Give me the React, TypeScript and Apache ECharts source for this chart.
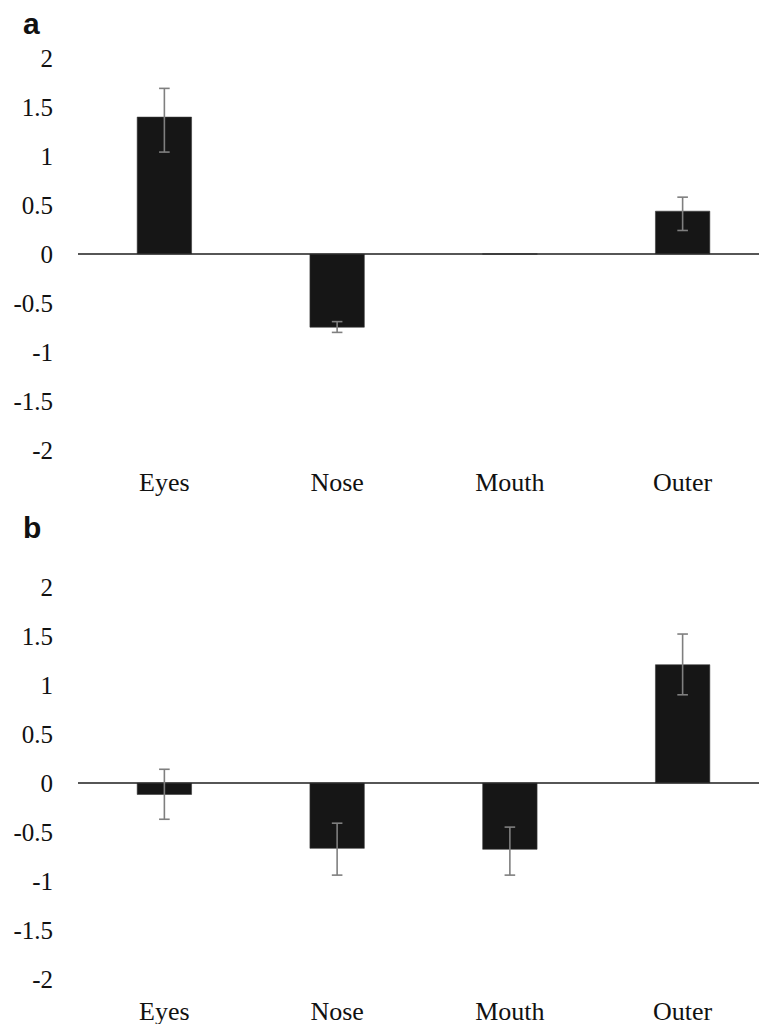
import React, { useEffect, useRef } from "react";
import * as echarts from "echarts";

const categories = ["Eyes", "Nose", "Mouth", "Outer"];
const yTicks = { min: -2, max: 2, step: 0.5 };

// Panel a
const valuesA = [1.4, -0.75, 0, 0.44];
const errLowA = [1.04, -0.8, null, 0.24];
const errHighA = [1.69, -0.69, null, 0.58];

// Panel b
const valuesB = [-0.12, -0.67, -0.68, 1.21];
const errLowB = [-0.37, -0.94, -0.94, 0.9];
const errHighB = [0.14, -0.41, -0.45, 1.52];

const panelLabels = ["a", "b"];

function errData(lo: (number | null)[], hi: (number | null)[]) {
  const out: number[][] = [];
  lo.forEach((l, i) => {
    const h = hi[i];
    if (l !== null && h !== null) out.push([i, l, h]);
  });
  return out;
}

export default function App() {
  const ref = useRef<HTMLDivElement>(null);
  useEffect(() => {
    if (!ref.current) return;
    const chart = echarts.init(ref.current, undefined, { renderer: "svg" });
    const serif = "'Liberation Serif', 'Times New Roman', serif";
    const grids = [
      { left: 78, right: 0, top: 58, height: 392 },
      { left: 78, right: 0, top: 587, height: 392 },
    ];
    const xAxes = grids.map((_, gi) => ({
      type: "category",
      gridIndex: gi,
      data: categories,
      axisLine: { show: false },
      axisTick: { show: false },
      axisLabel: { fontFamily: serif, fontSize: 26, color: "#111", margin: 19 },
    }));
    const yAxes = grids.map((_, gi) => ({
      type: "value",
      gridIndex: gi,
      min: yTicks.min,
      max: yTicks.max,
      interval: yTicks.step,
      axisLine: { show: false },
      axisTick: { show: false },
      splitLine: { show: false },
      axisLabel: { fontFamily: serif, fontSize: 25, color: "#111", margin: 25 },
    }));
    const renderErr = (params: any, api: any) => {
      const x = api.value(0);
      const lo = api.coord([x, api.value(1)]);
      const hi = api.coord([x, api.value(2)]);
      const cap = 5.3;
      const style = { stroke: "#7f7f7f", lineWidth: 1.6 };
      return {
        type: "group",
        children: [
          { type: "line", shape: { x1: lo[0], y1: lo[1], x2: hi[0], y2: hi[1] }, style },
          { type: "line", shape: { x1: lo[0] - cap, y1: lo[1], x2: lo[0] + cap, y2: lo[1] }, style },
          { type: "line", shape: { x1: hi[0] - cap, y1: hi[1], x2: hi[0] + cap, y2: hi[1] }, style },
        ],
      };
    };
    const barSeries = (vals: number[], gi: number) => ({
      type: "bar",
      xAxisIndex: gi,
      yAxisIndex: gi,
      data: vals,
      barWidth: 55,
      itemStyle: { color: "#161616", borderColor: "#3a3a3a", borderWidth: 0.6 },
      markLine: {
        silent: true,
        symbol: ["none", "none"],
        label: { show: false },
        lineStyle: { color: "#1e1e1e", width: 1.5, type: "solid" },
        data: [{ yAxis: 0 }],
      },
    });
    const errSeries = (lo: any[], hi: any[], gi: number) => ({
      type: "custom",
      xAxisIndex: gi,
      yAxisIndex: gi,
      data: errData(lo, hi),
      encode: { x: 0, y: [1, 2] },
      renderItem: renderErr,
      z: 5,
    });
    chart.setOption({
      animation: false,
      backgroundColor: "#ffffff",
      textStyle: { fontFamily: serif },
      grid: grids,
      xAxis: xAxes,
      yAxis: yAxes,
      series: [
        barSeries(valuesA, 0),
        errSeries(errLowA, errHighA, 0),
        barSeries(valuesB, 1),
        errSeries(errLowB, errHighB, 1),
      ],
      graphic: [
        {
          type: "text",
          left: 23,
          top: 8,
          style: { text: panelLabels[0], font: "bold 30px 'Liberation Sans'", fill: "#111" },
        },
        {
          type: "text",
          left: 23,
          top: 512,
          style: { text: panelLabels[1], font: "bold 30px 'Liberation Sans'", fill: "#111" },
        },
      ],
    });
    return () => chart.dispose();
  }, []);
  return (
    <div
      ref={ref}
      style={{ position: "fixed", left: 0, top: 0, width: 769, height: 1024, background: "#fff" }}
    />
  );
}
